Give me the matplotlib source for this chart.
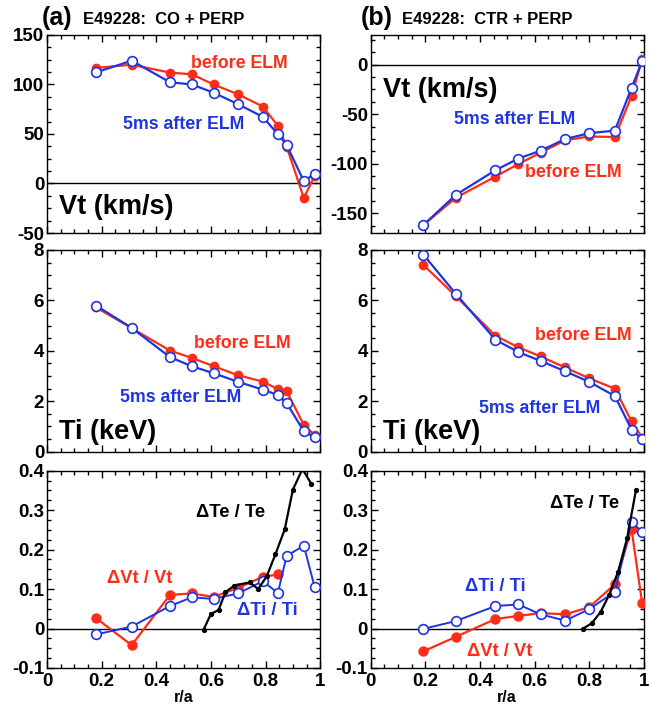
import matplotlib
matplotlib.use("Agg")
import matplotlib.pyplot as plt
from matplotlib.ticker import AutoMinorLocator, FuncFormatter, MultipleLocator

plt.rcParams['font.family'] = ['Liberation Sans', 'DejaVu Sans']
plt.rcParams['font.weight'] = 'bold'
plt.rcParams['axes.unicode_minus'] = False

RED = '#FF2D17'
BLUE = '#1F35E0'

# ---------------- Panel (a): CO + PERP ----------------
ra_a = [0.18, 0.31, 0.45, 0.53, 0.61, 0.70, 0.79, 0.845, 0.877, 0.94, 0.98]
vt_before_a = [116.7, 120, 112, 110.3, 100, 90, 77.7, 58.3, 37.3, -14.7, 8]
vt_after_a = [112.3, 124, 102.3, 100, 91.7, 80, 67.3, 49.7, 39, 2.3, 10]
ti_before_a = [5.72, 4.9, 4.01, 3.72, 3.39, 3.03, 2.78, 2.48, 2.4, 1.06, 0.65]
ti_after_a = [5.79, 4.91, 3.75, 3.39, 3.11, 2.77, 2.46, 2.25, 1.93, 0.81, 0.57]
dvt_a = [0.026, -0.042, 0.085, 0.089, 0.08, 0.103, 0.131, 0.137]
dti_a = [-0.015, 0.005, 0.057, 0.079, 0.075, 0.089, 0.12, 0.09, 0.184, 0.21, 0.104]
ra_te_a = [0.573, 0.60, 0.628, 0.653, 0.686, 0.742, 0.773, 0.804, 0.836, 0.87, 0.90, 0.935, 0.968]
dte_a = [-0.003, 0.037, 0.047, 0.092, 0.109, 0.117, 0.10, 0.132, 0.188, 0.251, 0.352, 0.404, 0.366]

# ---------------- Panel (b): CTR + PERP ----------------
ra_b = [0.193, 0.312, 0.457, 0.541, 0.622, 0.712, 0.80, 0.894, 0.955, 0.994]
vt_before_b = [-162, -134.4, -113, -100.3, -88.9, -76.4, -72.5, -73.1, -31.8, 5.6]
vt_after_b = [-162, -131.5, -106.6, -94.8, -86.9, -75.1, -69.2, -66.6, -23.6, 3.6]
ti_before_b = [7.41, 6.17, 4.6, 4.14, 3.78, 3.34, 2.91, 2.5, 1.21, 0.56]
ti_after_b = [7.82, 6.26, 4.44, 3.95, 3.6, 3.19, 2.77, 2.21, 0.88, 0.49]
dvt_b = [-0.058, -0.021, 0.024, 0.032, 0.039, 0.036, 0.054, 0.112, 0.252, 0.064]
dti_b = [-0.001, 0.019, 0.057, 0.061, 0.036, 0.02, 0.049, 0.093, 0.271, 0.244]
ra_te_b = [0.778, 0.809, 0.842, 0.873, 0.906, 0.939, 0.971]
dte_b = [0.0, 0.013, 0.042, 0.085, 0.144, 0.229, 0.35]

x_ticks = [0, 0.2, 0.4, 0.6, 0.8, 1.0]

fig = plt.figure(figsize=(6.49, 7.05), dpi=100)

colL, colR, colW = 0.0724, 0.571, 0.421
rows = [(0.6695, 0.2809), (0.3593, 0.2861), (0.0525, 0.2799)]

fmt = FuncFormatter(lambda v, p: ('%g' % round(v, 6)))
TICK_FS = 13.5
NOTE_FS = 12.8
BIG_FS = 19.5
REL_FS = 13.2


def style(ax, ymaj, show_x):
    ax.set_xlim(0, 1)
    ax.xaxis.set_major_locator(MultipleLocator(0.2))
    ax.xaxis.set_minor_locator(AutoMinorLocator(4))
    ax.yaxis.set_major_locator(MultipleLocator(ymaj))
    ax.yaxis.set_minor_locator(AutoMinorLocator(4))
    ax.tick_params(which='both', direction='in', top=True, right=True,
                   labelsize=TICK_FS, width=1, colors='black')
    ax.tick_params(which='major', length=5)
    ax.tick_params(which='minor', length=3)
    ax.yaxis.set_major_formatter(fmt)
    ax.xaxis.set_major_formatter(fmt)
    if not show_x:
        ax.set_xticklabels([])
    for lab in ax.get_xticklabels() + ax.get_yticklabels():
        lab.set_fontweight('bold')
    for s in ax.spines.values():
        s.set_linewidth(1.0)
    ax.tick_params(axis='y', pad=2)


def pair(ax, x, before, after):
    ax.plot(x, before, '-o', color=RED, lw=1.6, ms=6, mfc=RED, mec=RED, zorder=3)
    ax.plot(x, after, '-o', color=BLUE, lw=1.6, ms=7, mfc='white', mec=BLUE,
            mew=1.2, zorder=4)


def txt(ax, x, y, s, c, size=NOTE_FS):
    ax.text(x, y, s, color=c, fontsize=size, fontweight='bold', ha='center',
            va='center')


for ci, left in enumerate([colL, colR]):
    # Row 1: Vt
    ax = fig.add_axes([left, rows[0][0], colW, rows[0][1]])
    if ci == 0:
        pair(ax, ra_a, vt_before_a, vt_after_a)
        ax.set_ylim(-50, 150)
        txt(ax, 0.703, 121, 'before ELM', RED)
        txt(ax, 0.50, 60, '5ms after ELM', BLUE)
        ax.text(0.045, -24, 'Vt (km/s)', fontsize=BIG_FS, fontweight='bold',
                ha='left', va='center')
    else:
        pair(ax, ra_b, vt_before_b, vt_after_b)
        ax.set_ylim(-170, 30)
        txt(ax, 0.528, -55, '5ms after ELM', BLUE)
        txt(ax, 0.741, -108.5, 'before ELM', RED)
        ax.text(0.045, -25.6, 'Vt (km/s)', fontsize=BIG_FS, fontweight='bold',
                ha='left', va='center')
    ax.axhline(0, color='black', lw=1.0, zorder=1)
    style(ax, 50, False)

    # Row 2: Ti
    ax = fig.add_axes([left, rows[1][0], colW, rows[1][1]])
    if ci == 0:
        pair(ax, ra_a, ti_before_a, ti_after_a)
        txt(ax, 0.716, 4.31, 'before ELM', RED)
        txt(ax, 0.489, 2.16, '5ms after ELM', BLUE)
    else:
        pair(ax, ra_b, ti_before_b, ti_after_b)
        txt(ax, 0.778, 4.6, 'before ELM', RED)
        txt(ax, 0.619, 1.71, '5ms after ELM', BLUE)
    ax.text(0.045, 0.79, 'Ti (keV)', fontsize=BIG_FS, fontweight='bold',
            ha='left', va='center')
    ax.set_ylim(0, 8)
    style(ax, 2, False)

    # Row 3: relative changes
    ax = fig.add_axes([left, rows[2][0], colW, rows[2][1]])
    if ci == 0:
        ax.plot(ra_a[:len(dvt_a)], dvt_a, '-o', color=RED, lw=1.6, ms=6.5,
                mfc=RED, mec=RED, zorder=3)
        ax.plot(ra_a, dti_a, '-o', color=BLUE, lw=1.4, ms=7, mfc='white',
                mec=BLUE, mew=1.2, zorder=4)
        ax.plot(ra_te_a, dte_a, '-o', color='black', lw=1.6, ms=2.8, zorder=5)
        txt(ax, 0.671, 0.295, '\u0394Te / Te', 'black', REL_FS)
        txt(ax, 0.34, 0.127, '\u0394Vt / Vt', RED, REL_FS)
        txt(ax, 0.806, 0.045, '\u0394Ti / Ti', BLUE, REL_FS)
    else:
        ax.plot(ra_b, dvt_b, '-o', color=RED, lw=1.6, ms=6.5, mfc=RED,
                mec=RED, zorder=3)
        ax.plot(ra_b, dti_b, '-o', color=BLUE, lw=1.4, ms=7, mfc='white',
                mec=BLUE, mew=1.2, zorder=4)
        ax.plot(ra_te_b, dte_b, '-o', color='black', lw=1.6, ms=2.8, zorder=5)
        txt(ax, 0.784, 0.318, '\u0394Te / Te', 'black', REL_FS)
        txt(ax, 0.455, 0.106, '\u0394Ti / Ti', BLUE, REL_FS)
        txt(ax, 0.473, -0.059, '\u0394Vt / Vt', RED, REL_FS)
    ax.axhline(0, color='black', lw=1.0, zorder=1)
    ax.set_ylim(-0.1, 0.4)
    style(ax, 0.1, True)
    ax.set_xticks(x_ticks)
    ax.set_xticklabels(['%g' % v for v in x_ticks], fontweight='bold')
    ax.set_xlabel('r/a', fontsize=11.5, fontweight='bold', labelpad=0)

# Titles
fig.text(57 / 649, 1 - 18 / 705, '(a)', fontsize=18, fontweight='bold',
         ha='center', va='center')
fig.text(83 / 649, 1 - 20 / 705, 'E49228:  CO + PERP', fontsize=12,
         fontweight='bold', ha='left', va='center')
fig.text(377 / 649, 1 - 18 / 705, '(b)', fontsize=18, fontweight='bold',
         ha='center', va='center')
fig.text(402 / 649, 1 - 20 / 705, 'E49228:  CTR + PERP', fontsize=12,
         fontweight='bold', ha='left', va='center')

fig.savefig('out.png', dpi=100)
